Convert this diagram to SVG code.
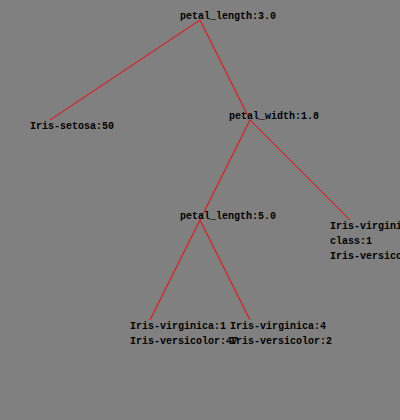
<svg xmlns="http://www.w3.org/2000/svg" width="400" height="420" viewBox="0 0 400 420">
<style>
text{font-family:"Liberation Mono","DejaVu Sans Mono",monospace;font-size:10px;font-weight:bold;fill:#000}
.e{stroke:#ff0000;stroke-width:1;fill:none}
</style>
<rect width="400" height="420" fill="#808080"/>
<g id="connectors">
<line class="e" x1="200" y1="20" x2="50" y2="120"/>
<line class="e" x1="200" y1="20" x2="250" y2="120"/>
<line class="e" x1="250" y1="120" x2="200" y2="220"/>
<line class="e" x1="250" y1="120" x2="350" y2="220"/>
<line class="e" x1="200" y1="220" x2="150" y2="320"/>
<line class="e" x1="200" y1="220" x2="250" y2="320"/>
</g>
<g id="root"><text x="180" y="19">petal_length:3.0</text></g>
<g id="setosa"><text x="30" y="129">Iris-setosa:50</text></g>
<g id="petal_width"><text x="229" y="119">petal_width:1.8</text></g>
<g id="petal_length2"><text x="180" y="219">petal_length:5.0</text></g>
<g id="leaf_right"><text x="330" y="229">Iris-virgini</text><text x="330" y="244">class:1</text><text x="330" y="259">Iris-versico</text></g>
<g id="leaf_left"><text x="130" y="329">Iris-virginica:1</text><text x="130" y="344">Iris-versicolor:47</text></g>
<g id="leaf_mid"><text x="230" y="329">Iris-virginica:4</text><text x="230" y="344">Iris-versicolor:2</text></g>
</svg>
